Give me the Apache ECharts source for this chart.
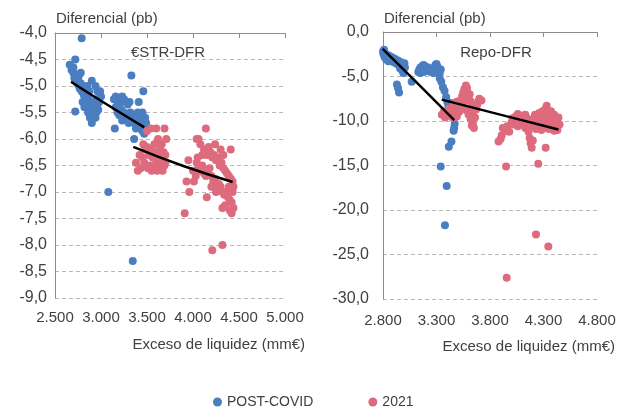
<!DOCTYPE html>
<html>
<head>
<meta charset="utf-8">
<script src="https://cdn.jsdelivr.net/npm/echarts@6/dist/echarts.min.js"></script>
<style>
html,body{margin:0;padding:0;background:#fff;}
#c{width:619px;height:407px;}
</style>
</head>
<body>
<div id="c"></div>
<script>
// ---------- DATA ----------
const seriesNames = ['POST-COVID', '2021'];
const panelTitles = ['€STR-DFR', 'Repo-DFR'];
const yAxisTitle = 'Diferencial (pb)';
const xAxisTitle = 'Exceso de liquidez (mm€)';

// Left panel (€STR-DFR): [excess liquidity, spread]
const leftBlue = [
 [2700,-4.75],[2710,-4.85],[2720,-4.8],[2730,-4.9],[2740,-4.95],[2750,-4.85],[2760,-5.0],[2770,-5.05],[2780,-4.95],[2790,-5.1],
 [2800,-5.0],[2810,-5.15],[2820,-5.2],[2830,-5.1],[2840,-5.25],[2850,-5.3],[2860,-5.2],[2870,-5.35],[2880,-5.4],[2890,-5.3],
 [2900,-5.45],[2910,-5.5],[2920,-5.55],[2930,-5.4],[2940,-5.6],[2950,-5.5],[2960,-5.35],[2980,-5.3],[2990,-5.1],[3000,-5.2],
 [2900,-4.9],[2940,-5.0],[2960,-5.1],[2850,-5.0],[2870,-5.1],[2800,-5.3],[2820,-5.4],[2860,-5.5],[2880,-5.6],[2900,-5.6],
 [2950,-5.25],[2970,-5.45],[2760,-4.8],[2780,-4.75],[2720,-5.48],[2900,-5.7],[2790,-4.1],[2720,-4.5],[2660,-4.6],[2680,-4.7],
 [2700,-4.65],
 [3140,-5.25],[3160,-5.2],[3180,-5.3],[3200,-5.35],[3230,-5.2],[3250,-5.25],[3270,-5.3],[3290,-5.35],[3310,-5.3],[3160,-5.4],
 [3180,-5.5],[3200,-5.55],[3220,-5.45],[3250,-5.5],[3270,-5.6],[3290,-5.55],[3320,-5.5],[3340,-5.6],[3360,-5.7],[3380,-5.6],
 [3400,-5.5],[3410,-5.3],[3420,-5.7],[3440,-5.6],[3450,-5.5],[3460,-5.65],[3470,-5.75],[3480,-5.6],[3490,-5.7],[3450,-5.85],
 [3470,-5.9],[3430,-5.8],[3230,-5.65],[3300,-5.7],[3330,-4.8],[3460,-5.1],[3150,-5.8],[3360,-6.0],[3080,-7.0],[3345,-8.3],
 [3410,-5.75],[3380,-5.8]
];
const leftPink = [
 [3540,-5.8],[3600,-5.8],[3690,-5.8],[3500,-5.85],[3710,-6.0],[3460,-6.1],[3480,-6.2],[3500,-6.15],[3520,-6.3],[3540,-6.2],
 [3560,-6.35],[3580,-6.25],[3600,-6.4],[3620,-6.3],[3640,-6.2],[3660,-6.1],[3680,-6.25],[3700,-6.3],[3450,-6.35],[3470,-6.45],
 [3490,-6.5],[3510,-6.55],[3530,-6.5],[3550,-6.6],[3570,-6.55],[3590,-6.5],[3610,-6.6],[3630,-6.55],[3650,-6.45],[3670,-6.6],
 [3690,-6.5],[3400,-6.6],[3430,-6.55],[3380,-6.45],[3420,-6.3],[3660,-6.35],[3580,-6.1],[3620,-6.0],[3700,-6.45],
 [4140,-5.8],[4060,-6.0],[4410,-6.2],[3950,-6.4],[3930,-6.8],[3960,-7.0],[3910,-7.4],[4150,-7.1],[4320,-7.3],[4420,-7.4],
 [4210,-8.1],[4320,-8.0],[4040,-6.0],
 [4080,-6.1],[4100,-6.3],[4120,-6.2],[4150,-6.3],[4170,-6.15],[4190,-6.25],[4210,-6.35],[4230,-6.3],[4250,-6.4],[4270,-6.35],
 [4290,-6.5],[4310,-6.45],[4330,-6.55],[4350,-6.6],[4370,-6.65],[4390,-6.7],[4410,-6.75],[4430,-6.8],[4040,-6.45],[4060,-6.55],
 [4080,-6.6],[4100,-6.5],[4120,-6.65],[4140,-6.7],[4160,-6.6],[4180,-6.55],[4200,-6.7],[4220,-6.8],[4240,-6.75],[4260,-6.9],
 [4280,-6.85],[4300,-6.9],[4320,-7.0],[4340,-7.05],[4360,-7.0],[4380,-7.1],[4400,-7.15],[4420,-7.2],[4440,-7.3],[4430,-7.0],
 [4410,-6.95],[4390,-6.9],[4440,-6.9],[4030,-6.7],[4000,-6.6],[4010,-6.8],[4050,-6.35],[4200,-6.9],[4250,-7.0],[4350,-7.25],
 [4400,-7.35],[4300,-6.2],[4330,-6.3],[4240,-6.1]
];
const leftBlueTrend = [[2674,-4.92],[2990,-5.27],[3471,-5.78]];
const leftPinkTrend = [[3351,-6.15],[3895,-6.51],[4431,-6.81]];

// Right panel (Repo-DFR)
const rightBlue = [
 [2795,-1.9],[2800,-2.2],[2805,-2.5],[2810,-2.0],[2815,-2.8],[2820,-2.4],[2830,-2.7],[2840,-3.0],[2850,-2.6],[2860,-2.9],
 [2870,-3.2],[2880,-2.8],[2890,-3.1],[2900,-3.4],[2910,-3.0],[2920,-3.3],[2930,-3.6],[2940,-3.2],[2950,-3.5],[2960,-3.8],
 [2970,-3.4],[2980,-3.6],[2990,-3.9],[3000,-3.5],[3005,-4.0],[2980,-4.3],[2960,-4.1],[2990,-4.6],[2850,-3.3],[2830,-3.1],
 [2930,-5.9],[2940,-6.3],[2950,-6.8],[3068,-5.6],
 [3130,-4.5],[3140,-4.2],[3150,-4.0],[3160,-4.3],[3170,-3.8],[3180,-3.7],[3190,-4.1],[3200,-3.9],[3210,-4.3],[3220,-4.0],
 [3230,-4.4],[3240,-4.2],[3250,-4.5],[3260,-4.1],[3270,-4.6],[3280,-4.0],[3290,-3.7],[3300,-3.6],[3310,-3.9],[3320,-4.3],
 [3330,-4.7],[3340,-4.2],[3300,-4.4],[3150,-4.6],[3180,-4.5],[3330,-5.2],[3345,-5.6],[3360,-6.2],[3375,-6.6],[3390,-7.3],
 [3400,-7.8],[3410,-8.2],[3430,-8.5],[3450,-8.9],[3440,-8.0],[3460,-8.4],[3470,-10.3],[3465,-10.8],[3460,-11.1],[3440,-12.3],
 [3415,-12.9],[3339,-15.1],[3395,-17.3],[3379,-21.7]
];
const rightPink = [
 [3400,-9.0],[3420,-8.6],[3430,-9.4],[3440,-8.8],[3450,-9.6],[3460,-8.3],[3470,-9.2],[3480,-8.7],[3490,-9.5],[3500,-8.4],
 [3510,-9.0],[3520,-8.2],[3530,-7.6],[3540,-7.2],[3550,-6.8],[3560,-6.4],[3575,-6.0],[3585,-6.3],[3590,-6.9],[3600,-7.4],
 [3610,-7.0],[3620,-7.8],[3630,-8.3],[3640,-8.9],[3600,-9.3],[3620,-9.8],[3640,-10.3],[3650,-10.8],[3630,-10.5],[3660,-9.6],
 [3670,-8.7],[3680,-8.2],[3690,-7.8],[3700,-7.5],[3720,-7.7],[3560,-7.8],[3545,-8.5],[3580,-8.8],[3500,-7.8],[3480,-7.9],
 [3350,-9.3],[3380,-9.6],[3370,-8.9],
 [3880,-12.3],[3900,-12.0],[3910,-11.6],[3920,-10.8],[3940,-11.1],[3960,-10.6],[3980,-11.2],[4000,-10.2],[4010,-9.7],[4020,-10.4],
 [4040,-9.5],[4050,-10.0],[4060,-10.6],[4080,-9.8],[4090,-10.3],[4100,-9.4],[4120,-10.0],[4130,-10.8],[4140,-9.6],[4150,-10.3],
 [4160,-11.2],[4170,-11.9],[4180,-12.5],[4190,-13.0],[4200,-12.2],[4175,-10.6],[4200,-9.8],[4210,-10.4],[4220,-9.3],[4240,-9.9],
 [4250,-10.5],[4260,-9.1],[4270,-9.7],[4280,-10.3],[4290,-8.9],[4300,-9.5],[4310,-10.1],[4320,-8.6],[4330,-8.3],[4340,-9.2],
 [4350,-9.8],[4360,-10.4],[4370,-8.9],[4380,-9.5],[4390,-10.0],[4400,-9.3],[4410,-10.6],[4420,-9.8],[4430,-10.2],[4440,-9.6],
 [4450,-10.4],[4430,-11.0],[4280,-11.0],[4300,-10.8],[4320,-13.0],[4060,-9.2],[3950,-15.1],[4251,-14.8],[3956,-27.6],[4230,-22.75],
 [4345,-24.1],[4130,-9.3],[4230,-10.9],[4350,-10.9],[4400,-11.1]
];
const rightBlueTrend = [[2797,-1.9],[3100,-5.5],[3466,-9.9]];
const rightPinkTrend = [[3349,-7.6],[3950,-9.45],[4439,-10.95]];

// Axis ranges / ticks
const leftX = {min: 2500, max: 5000, interval: 500};
const leftY = {min: -9, max: -4, interval: 0.5};
const rightX = {min: 2800, max: 4800, interval: 500};
const rightY = {min: -30, max: 0, interval: 5};

// ---------- CHART ----------
const BLUE = '#4A7EC1';
const PINK = '#DE6B7D';
const TXT = '#404040';
const FONT = 'Liberation Sans, Arial, sans-serif';

const fmtX = v => {
  const s = String(Math.round(v));
  return s.replace(/\B(?=(\d{3})+(?!\d))/g, '.');
};
const fmtY = v => v.toFixed(1).replace('.', ',');

function xAxesFor(gridIndex, r, margin) {
  return [
    { // bottom: labels only
      type: 'value', gridIndex, position: 'bottom', min: r.min, max: r.max, interval: r.interval,
      axisLine: {show: false}, axisTick: {show: false}, splitLine: {show: false},
      axisLabel: {formatter: fmtX, color: TXT, fontSize: 15, fontFamily: FONT, margin, showMinLabel: true, showMaxLabel: true}
    },
    { // top: line with inside ticks
      type: 'value', gridIndex, position: 'top', min: r.min, max: r.max, interval: r.interval,
      axisLine: {show: true, onZero: false, lineStyle: {color: '#8c8c8c', width: 1}},
      axisTick: {show: true, inside: true, length: 5, lineStyle: {color: '#8c8c8c'}},
      axisLabel: {show: false}, splitLine: {show: false}
    }
  ];
}
function yAxisFor(gridIndex, r, margin) {
  return {
    type: 'value', gridIndex, min: r.min, max: r.max, interval: r.interval,
    axisLine: {show: true, onZero: false, lineStyle: {color: '#8c8c8c', width: 1}},
    axisTick: {show: false},
    splitLine: {show: true, lineStyle: {color: '#b8b8b8', type: [4, 3], width: 1}},
    axisLabel: {formatter: fmtY, color: TXT, fontSize: 16, fontFamily: FONT, margin}
  };
}
function scatter(name, data, xi, yi, color) {
  return {name, type: 'scatter', data, xAxisIndex: xi, yAxisIndex: yi, symbolSize: 8,
          itemStyle: {color, opacity: 1}, emphasis: {disabled: true}, animation: false};
}
function trend(data, xi, yi) {
  return {name: 'trend', type: 'line', data, xAxisIndex: xi, yAxisIndex: yi, symbol: 'none', smooth: true,
          lineStyle: {color: '#000', width: 2.5}, z: 10, animation: false};
}

const chart = echarts.init(document.getElementById('c'), null, {renderer: 'canvas'});
chart.setOption({
  animation: false,
  backgroundColor: '#fff',
  grid: [
    {left: 55, top: 33, width: 230, height: 265},
    {left: 383, top: 32, width: 214, height: 267}
  ],
  xAxis: [...xAxesFor(0, leftX, 12), ...xAxesFor(1, rightX, 14)],
  yAxis: [yAxisFor(0, leftY, 8), yAxisFor(1, rightY, 14)],
  legend: {
    data: seriesNames, left: 213, top: 395, padding: 0, icon: 'circle', itemWidth: 9, itemHeight: 9, itemGap: 55,
    textStyle: {color: TXT, fontSize: 14, fontFamily: 'Liberation Sans Narrow, Arial Narrow, sans-serif'}
  },
  series: [
    scatter(seriesNames[0], leftBlue, 0, 0, BLUE),
    scatter(seriesNames[1], leftPink, 0, 0, PINK),
    trend(leftBlueTrend, 0, 0),
    trend(leftPinkTrend, 0, 0),
    scatter(seriesNames[0], rightBlue, 2, 1, BLUE),
    scatter(seriesNames[1], rightPink, 2, 1, PINK),
    trend(rightBlueTrend, 2, 1),
    trend(rightPinkTrend, 2, 1)
  ],
  graphic: [
    {type: 'text', left: 56, top: 11, style: {text: yAxisTitle, fill: TXT, fontSize: 15, fontFamily: FONT}},
    {type: 'text', left: 384, top: 11, style: {text: yAxisTitle, fill: TXT, fontSize: 15, fontFamily: FONT}},
    {type: 'text', x: 168, y: 53, style: {text: panelTitles[0], fill: TXT, fontSize: 15, fontFamily: FONT, align: 'center', verticalAlign: 'middle'}},
    {type: 'text', x: 496, y: 53, style: {text: panelTitles[1], fill: TXT, fontSize: 15, fontFamily: FONT, align: 'center', verticalAlign: 'middle'}},
    {type: 'text', x: 305, y: 345, style: {text: xAxisTitle, fill: TXT, fontSize: 15, fontFamily: FONT, align: 'right', verticalAlign: 'middle'}},
    {type: 'text', x: 615, y: 347, style: {text: xAxisTitle, fill: TXT, fontSize: 15, fontFamily: FONT, align: 'right', verticalAlign: 'middle'}}
  ]
});
</script>
</body>
</html>
